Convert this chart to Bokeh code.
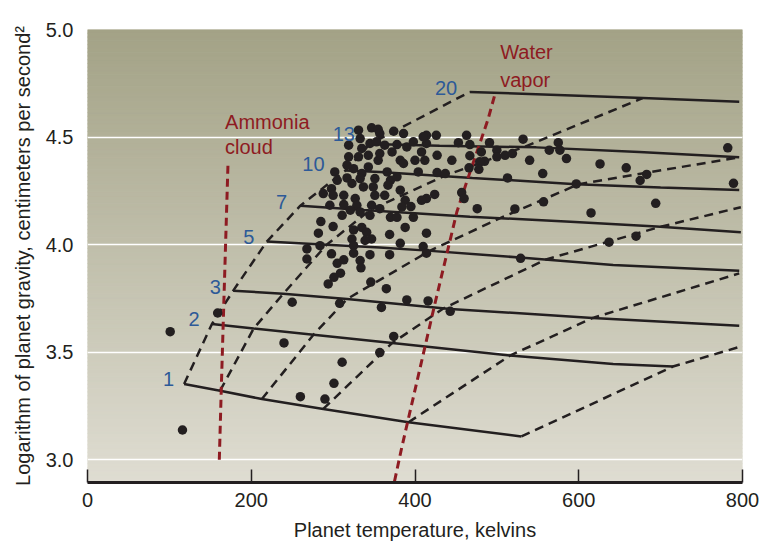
import numpy as np
from bokeh.plotting import figure
from bokeh.embed import file_html
from bokeh.resources import INLINE
from bokeh.models import FixedTicker, PrintfTickFormatter
from bokeh.core.properties import value

# ---------------- data (temperature in K, log g in cgs) ----------------
x_ticks = [0, 200, 400, 600, 800]
y_ticks = [3.0, 3.5, 4.0, 4.5, 5.0]
grid_ticks = [3.0, 3.5, 4.0, 4.5]

# constant-mass tracks (solid)
mass1_T = [118, 162, 213, 288, 392, 530]
mass1_logg = [3.352, 3.321, 3.282, 3.236, 3.174, 3.108]
mass2_T = [152, 203, 276, 378, 516, 642, 715]
mass2_logg = [3.631, 3.610, 3.581, 3.540, 3.484, 3.445, 3.433]
mass3_T = [178, 239, 317, 443, 617, 796]
mass3_logg = [3.786, 3.771, 3.747, 3.701, 3.659, 3.623]
mass5_T = [219, 292, 357, 415, 528, 642, 796]
mass5_logg = [4.014, 3.999, 3.986, 3.972, 3.940, 3.905, 3.879]
mass7_T = [260, 337, 467, 590, 695, 798]
mass7_logg = [4.181, 4.161, 4.130, 4.106, 4.084, 4.057]
mass10_T = [315, 357, 470, 597, 700, 796]
mass10_logg = [4.344, 4.337, 4.310, 4.281, 4.265, 4.254]
mass13_T = [345, 430, 548, 674, 796]
mass13_logg = [4.468, 4.460, 4.452, 4.430, 4.406]
mass20_T = [467, 678, 796]
mass20_logg = [4.710, 4.681, 4.664]

# isochrons (dashed)
iso0_T = [118, 152, 178, 219, 260, 315, 345, 467]
iso0_logg = [3.352, 3.631, 3.786, 4.014, 4.181, 4.344, 4.468, 4.710]
iso1_T = [162, 203, 239, 292, 345, 435, 534, 678]
iso1_logg = [3.321, 3.610, 3.771, 3.999, 4.160, 4.318, 4.455, 4.681]
iso2_T = [213, 276, 317, 418, 504, 600, 796]
iso2_logg = [3.282, 3.581, 3.747, 3.971, 4.123, 4.281, 4.406]
iso3_T = [288, 372, 435, 560, 700, 798]
iso3_logg = [3.236, 3.542, 3.704, 3.931, 4.083, 4.174]
iso4_T = [392, 516, 617, 796]
iso4_logg = [3.174, 3.484, 3.659, 3.866]
iso5_T = [530, 715, 796]
iso5_logg = [3.108, 3.433, 3.524]

# condensation curves (red dashed)
ammonia_T = [161, 163.4, 166.2, 171.6]
ammonia_logg = [3.00, 3.33, 3.69, 4.375]
water_T = [375, 384, 424, 451, 463, 489, 497]
water_logg = [2.90, 3.06, 3.72, 4.15, 4.29, 4.58, 4.69]

# observed planets (dots)
dots_T = [331, 347, 355, 357, 374, 386,
          333, 319, 335, 345, 353, 363, 378, 390, 398, 408, 414,
          319, 331, 343, 355, 357, 372, 382, 386, 400,
          343, 335, 325, 317, 302, 305, 317, 333, 351, 366, 370, 378, 404,
          382, 367, 349, 337, 323, 298, 288, 300, 313, 327, 351, 363, 388, 414,
          296, 313, 329, 333, 347, 357, 384, 321, 311, 345,
          285, 300, 282, 325, 335, 341, 347, 339, 323, 325, 325, 345,
          369, 370, 378, 388, 398, 414, 382, 410, 414,
          268, 284, 268, 298, 305, 313, 333, 334, 309, 301, 294, 369, 346, 365, 308, 390, 359, 416, 250,
          414, 426, 410, 463, 453, 467, 491, 532, 575, 564, 577, 585,
          412, 427, 445, 467, 481, 485, 479, 500, 500, 510, 519, 540,
          466, 478, 427, 437, 513, 556,
          424, 457, 460, 408, 476, 522, 557, 395,
          782, 789, 626, 658, 675, 683, 694, 615, 597, 670, 637, 529,
          101, 116, 159, 240, 311, 301, 260, 290, 443, 374, 357]
dots_logg = [4.532, 4.543, 4.536, 4.516, 4.527, 4.516,
             4.493, 4.462, 4.447, 4.470, 4.478, 4.462, 4.465, 4.454, 4.478, 4.431, 4.470,
             4.408, 4.408, 4.415, 4.392, 4.423, 4.431, 4.392, 4.377, 4.392,
             4.361, 4.330, 4.353, 4.369, 4.338, 4.299, 4.310, 4.307, 4.307, 4.338, 4.299, 4.315, 4.338,
             4.253, 4.276, 4.268, 4.268, 4.284, 4.260, 4.237, 4.229, 4.229, 4.214, 4.229, 4.229, 4.206, 4.214,
             4.183, 4.186, 4.183, 4.152, 4.183, 4.167, 4.175, 4.160, 4.136, 4.136,
             4.107, 4.084, 4.053, 4.068, 4.080, 4.057, 4.026, 4.019, 4.026, 3.995, 3.960, 3.953,
             4.047, 4.127, 4.127, 4.080, 4.127, 4.053, 4.006, 3.991, 3.960,
             3.980, 3.995, 3.933, 3.957, 3.913, 3.929, 3.926, 3.892, 3.867, 3.848, 3.817, 3.953, 3.826, 3.795, 3.727, 3.743, 3.708, 3.738, 3.732,
             4.508, 4.508, 4.501, 4.508, 4.474, 4.465, 4.474, 4.490, 4.474, 4.439, 4.439, 4.400,
             4.392, 4.415, 4.392, 4.413, 4.431, 4.387, 4.385, 4.439, 4.408, 4.415, 4.423, 4.392,
             4.357, 4.350, 4.335, 4.330, 4.310, 4.330,
             4.233, 4.242, 4.214, 4.206, 4.167, 4.166, 4.199, 4.177,
             4.450, 4.285, 4.375, 4.357, 4.298, 4.326, 4.192, 4.147, 4.282, 4.039, 4.011, 3.936,
             3.595, 3.138, 3.682, 3.543, 3.453, 3.355, 3.293, 3.282, 3.690, 3.573, 3.498]

# labels
mass_labels = ["1", "2", "3", "5", "7", "10", "13", "20"]
mass_label_T = [99, 130, 156, 197, 237, 276, 313, 438]
mass_label_logg = [3.377, 3.654, 3.801, 4.034, 4.200, 4.375, 4.512, 4.729]
ammonia_labels = ["Ammonia", "cloud"]
ammonia_label_T = [168, 168]
ammonia_label_logg = [4.569, 4.453]
water_labels = ["Water", "vapor"]
water_label_T = [504, 504]
water_label_logg = [4.894, 4.767]

# ---------------- styling ----------------
FONT = "Liberation Sans"
INK = "#231f20"
RED = "#8e1b22"
BLUE = "#2d5a98"

p = figure(width=760, height=544, x_range=(0, 800), y_range=(2.894, 5.0),
           output_backend="svg", toolbar_location=None,
           min_border_left=87, min_border_right=18, min_border_top=29, min_border_bottom=62)
p.background_fill_color = "white"
p.border_fill_color = "white"
p.outline_line_color = None

# vertical gradient background
n_bands = 120
edges = np.linspace(p.y_range.start, p.y_range.end, n_bands + 1)
bottom_rgb = np.array([223, 221, 210])
top_rgb = np.array([163, 162, 134])
frac = (np.arange(n_bands) + 0.5) / n_bands
band_cols = ["#%02x%02x%02x" % tuple(int(round(c)) for c in bottom_rgb + (top_rgb - bottom_rgb) * f)
             for f in frac]
p.quad(left=p.x_range.start, right=p.x_range.end, bottom=edges[:-1], top=edges[1:],
       fill_color=band_cols, line_color=band_cols, line_width=1, level="image")

p.xgrid.grid_line_color = None
p.ygrid.ticker = FixedTicker(ticks=grid_ticks)
p.ygrid.grid_line_color = "white"
p.ygrid.grid_line_width = 1.5

# isochrons
for T, g in [(iso0_T, iso0_logg), (iso1_T, iso1_logg), (iso2_T, iso2_logg),
             (iso3_T, iso3_logg), (iso4_T, iso4_logg), (iso5_T, iso5_logg)]:
    p.line(T, g, line_color=INK, line_width=2.5, line_dash="9 6")

# mass tracks
for T, g in [(mass1_T, mass1_logg), (mass2_T, mass2_logg), (mass3_T, mass3_logg),
             (mass5_T, mass5_logg), (mass7_T, mass7_logg), (mass10_T, mass10_logg),
             (mass13_T, mass13_logg), (mass20_T, mass20_logg)]:
    p.line(T, g, line_color=INK, line_width=2.5)

# condensation curves
p.line(ammonia_T, ammonia_logg, line_color=RED, line_width=3, line_dash="8 5")
p.line(water_T, water_logg, line_color=RED, line_width=3, line_dash="8 5")

# planets
p.scatter(dots_T, dots_logg, size=9.5, fill_color=INK, line_color=None)

# labels
p.text(mass_label_T, mass_label_logg, text=mass_labels, text_font=value(FONT),
       text_font_size="20px", text_color=BLUE, text_align="center", text_baseline="middle")
p.text(ammonia_label_T, ammonia_label_logg, text=ammonia_labels, text_font=value(FONT),
       text_font_size="20px", text_color=RED, text_align="left", text_baseline="middle")
p.text(water_label_T, water_label_logg, text=water_labels, text_font=value(FONT),
       text_font_size="20px", text_color=RED, text_align="left", text_baseline="middle")

# axes
xa = p.xaxis[0]
xa.ticker = FixedTicker(ticks=x_ticks)
xa.axis_line_color = INK
xa.axis_line_width = 3
xa.major_tick_in = 13
xa.major_tick_out = 0
xa.major_tick_line_color = INK
xa.major_tick_line_width = 1.5
xa.minor_tick_line_color = None
xa.major_label_text_font = FONT
xa.major_label_text_font_size = "20px"
xa.major_label_text_color = INK
xa.major_label_standoff = 10
xa.axis_label = "Planet temperature, kelvins"
xa.axis_label_text_font = FONT
xa.axis_label_text_font_size = "20px"
xa.axis_label_text_font_style = "normal"
xa.axis_label_text_color = INK
xa.axis_label_standoff = 9

ya = p.yaxis[0]
ya.ticker = FixedTicker(ticks=y_ticks)
ya.formatter = PrintfTickFormatter(format="%.1f")
ya.axis_line_color = None
ya.major_tick_line_color = None
ya.minor_tick_line_color = None
ya.major_tick_in = 0
ya.major_tick_out = 0
ya.major_label_standoff = 14
ya.major_label_text_font = FONT
ya.major_label_text_font_size = "20px"
ya.major_label_text_color = INK
ya.axis_label = "Logarithm of planet gravity, centimeters per second\u00b2"
ya.axis_label_text_font = FONT
ya.axis_label_text_font_size = "20px"
ya.axis_label_text_font_style = "normal"
ya.axis_label_text_color = INK
ya.axis_label_standoff = 9

open("out.html", "w").write(file_html(p, INLINE))
